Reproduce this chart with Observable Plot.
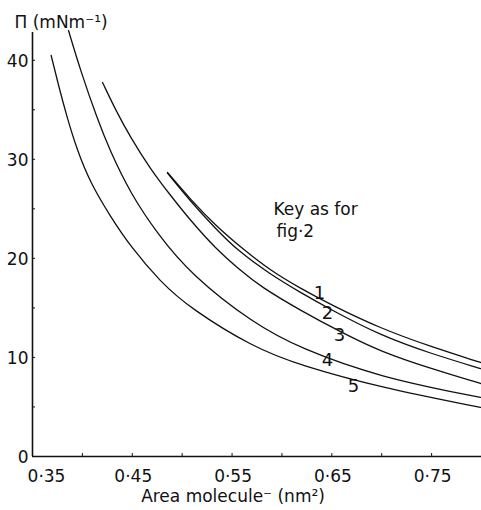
<!DOCTYPE html>
<html><head><meta charset="utf-8">
<script src="https://cdn.jsdelivr.net/npm/d3@7"></script>
<script src="https://cdn.jsdelivr.net/npm/@observablehq/plot@0.6"></script>
<style>body{margin:0;background:#fff} svg{display:block}</style>
</head><body><div id="chart"></div>
<script>
// ---- data ----
const curveNames = ["1", "2", "3", "4", "5"];
const area1 = [0.4853, 0.5084, 0.5334, 0.5615, 0.5885, 0.6186, 0.6487, 0.6988, 0.7489, 0.7990];
const pi1   = [28.67, 25.94, 23.32, 20.89, 18.77, 16.96, 15.34, 12.92, 11.10, 9.49];
const area2 = [0.4853, 0.5084, 0.5334, 0.5555, 0.5885, 0.6186, 0.6487, 0.6988, 0.7489, 0.7990];
const pi2   = [28.60, 25.74, 23.01, 20.79, 18.37, 16.55, 14.84, 12.21, 10.40, 8.88];
const area3 = [0.4202, 0.4332, 0.4482, 0.4683, 0.4883, 0.5084, 0.5334, 0.5585, 0.5785, 0.6186, 0.6617, 0.6988, 0.7489, 0.7990];
const pi3   = [37.75, 35.00, 32.20, 29.00, 26.35, 23.82, 21.00, 18.77, 17.16, 14.74, 12.42, 10.60, 8.88, 7.37];
const area4 = [0.3861, 0.3981, 0.4148, 0.4275, 0.4482, 0.4750, 0.5084, 0.5715, 0.6186, 0.6988, 0.7990];
const pi4   = [43.0, 38.96, 34.12, 30.89, 26.55, 22.51, 18.40, 13.42, 10.90, 7.97, 5.96];
const area5 = [0.3687, 0.3761, 0.3841, 0.3948, 0.4081, 0.4282, 0.4482, 0.4783, 0.5084, 0.5715, 0.6186, 0.6988, 0.7990];
const pi5   = [40.48, 37.45, 34.42, 30.89, 27.60, 24.20, 21.20, 17.60, 14.94, 11.00, 9.19, 6.96, 4.95];

const curveLabelArea = [0.6376, 0.6457, 0.6577, 0.6457, 0.6717];
const curveLabelPi   = [16.45, 14.43, 12.21, 9.69, 7.07];

const keyLines = ["Key as for", "fig·2"];
const keyArea  = [0.5915, 0.5945];
const keyPi    = [24.93, 22.71];

const xTickValues  = [0.35, 0.40, 0.45, 0.50, 0.55, 0.60, 0.65, 0.70, 0.75, 0.80];
const xLabelValues = [0.35, 0.45, 0.55, 0.65, 0.75];
const yTickValues  = [0, 5, 10, 15, 20, 25, 30, 35, 40];
const yLabelValues = [0, 10, 20, 30, 40];

const yTitle = "Π (mNm⁻¹)";
const xTitle = "Area molecule⁻ (nm²)";

// ---- build table ----
const areas = [area1, area2, area3, area4, area5];
const pis = [pi1, pi2, pi3, pi4, pi5];
const rows = curveNames.flatMap((name, k) => areas[k].map((a, i) => ({curve: name, area: a, pi: pis[k][i]})));
const labels = curveNames.map((name, k) => ({name, area: curveLabelArea[k], pi: curveLabelPi[k]}));
const keys = keyLines.map((t, k) => ({t, area: keyArea[k], pi: keyPi[k]}));
const fmt = d => d.toFixed(2).replace(".", "·");

const ink = "#111";
const chart = Plot.plot({
  width: 481, height: 510,
  marginLeft: 32, marginRight: 0, marginTop: 32, marginBottom: 54,
  x: {domain: [0.35, 0.80], label: null},
  y: {domain: [0, 42.8], label: null},
  style: {fontFamily: "'DejaVu Sans', sans-serif", fontSize: "17px", color: ink, background: "white"},
  marks: [
    Plot.axisX(xTickValues, {tickSize: -3, tickFormat: () => "", stroke: ink, label: null}),
    Plot.axisY(yTickValues, {tickSize: -3, tickFormat: () => "", stroke: ink, label: null}),
    Plot.ruleX([0.35], {stroke: ink, strokeWidth: 1.6}),
    Plot.ruleY([0], {stroke: ink, strokeWidth: 1.6}),
    Plot.text(xLabelValues.slice(1), {x: d => d, y: 0, dy: 20, dx: 1, text: fmt, fill: ink, fontSize: 17}),
    Plot.text(xLabelValues.slice(0, 1), {x: d => d, y: 0, dy: 20, dx: 14, text: fmt, fill: ink, fontSize: 17}),
    Plot.text(yLabelValues, {x: 0.35, y: d => d, dx: -4, dy: 1, textAnchor: "end", text: d => String(d), fill: ink, fontSize: 17}),
    Plot.line(rows, {x: "area", y: "pi", z: "curve", stroke: ink, strokeWidth: 1.3, curve: "basis"}),
    Plot.text(labels, {x: "area", y: "pi", text: "name", fill: ink, fontSize: 18}),
    Plot.text(keys, {x: "area", y: "pi", text: "t", textAnchor: "start", fill: ink, fontSize: 17}),
    Plot.text([yTitle], {frameAnchor: "top-left", dx: -18, dy: -17, textAnchor: "start", fill: ink, fontSize: 17}),
    Plot.text([xTitle], {frameAnchor: "bottom", dx: -24, dy: 45, fill: ink, fontSize: 17})
  ]
});
document.getElementById("chart").appendChild(chart);
</script>
</body></html>
